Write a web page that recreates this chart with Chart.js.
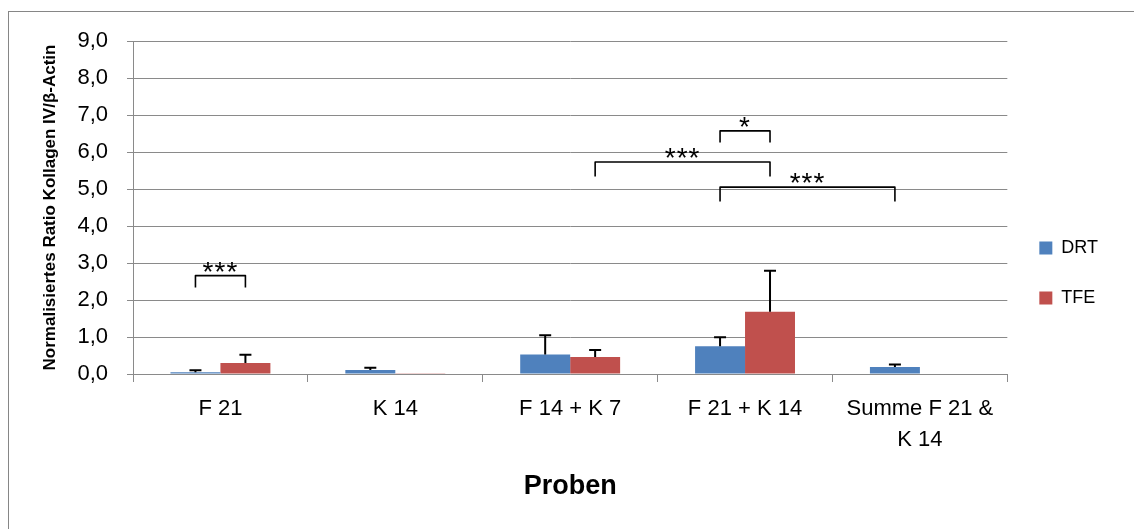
<!DOCTYPE html>
<html>
<head>
<meta charset="utf-8">
<script src="https://cdn.jsdelivr.net/npm/chart.js@4.4.1/dist/chart.umd.min.js"></script>
<style>
html, body { margin: 0; padding: 0; background: #fff; overflow: hidden; }
#wrap { position: relative; width: 1134px; height: 529px; }
#frame { position: absolute; left: 8px; top: 11px; width: 1200px; height: 600px; border: 1px solid #868686; }
#myChart { position: absolute; left: 0; top: 0; }
</style>
</head>
<body>
<div id="wrap">
  <div id="frame"></div>
  <canvas id="myChart" width="1134" height="529"></canvas>
</div>
<script>
// data
var categories = ['F 21', 'K 14', 'F 14 + K 7', 'F 21 + K 14', ['Summe F 21 &', 'K 14']];
var drtValues = [0.05, 0.11, 0.53, 0.75, 0.19];
var drtErrors = [0.05, 0.06, 0.52, 0.24, 0.07];
var tfeValues = [0.30, 0.01, 0.46, 1.68, 0];
var tfeErrors = [0.22, 0, 0.19, 1.11, 0];
var yTicks = [0, 1, 2, 3, 4, 5, 6, 7, 8, 9];

// significance brackets: [category, dataset] at each end, bracket top / leg end in axis units
var bracketFrom = [[0, 0], [3, 0], [2, 1], [3, 0]];
var bracketTo = [[0, 1], [3, 1], [3, 1], [4, 0]];
var bracketTop = [2.66, 6.57, 5.73, 5.05];
var bracketLeg = [2.34, 6.26, 5.34, 4.66];
var bracketText = ['***', '*', '***', '***'];

var fontName = "'Liberation Sans', Arial, sans-serif";

var errorBars = {
    id: 'errorBars',
    afterDatasetsDraw: function (chart) {
        var ctx = chart.ctx;
        var y = chart.scales.y;
        chart.data.datasets.forEach(function (ds, i) {
            var meta = chart.getDatasetMeta(i);
            meta.data.forEach(function (bar, j) {
                var err = ds.errors[j];
                if (!err) return;
                var top = y.getPixelForValue(ds.data[j] + err);
                ctx.save();
                ctx.strokeStyle = '#000';
                ctx.lineWidth = 2;
                ctx.beginPath();
                ctx.moveTo(bar.x, bar.y);
                ctx.lineTo(bar.x, top);
                ctx.moveTo(bar.x - 6, top);
                ctx.lineTo(bar.x + 6, top);
                ctx.stroke();
                ctx.restore();
            });
        });
    }
};

var brackets = {
    id: 'brackets',
    afterDatasetsDraw: function (chart) {
        var ctx = chart.ctx;
        var y = chart.scales.y;
        for (var k = 0; k < bracketText.length; k++) {
            var a = chart.getDatasetMeta(bracketFrom[k][1]).data[bracketFrom[k][0]];
            var b = chart.getDatasetMeta(bracketTo[k][1]).data[bracketTo[k][0]];
            var yt = y.getPixelForValue(bracketTop[k]);
            var yl = y.getPixelForValue(bracketLeg[k]);
            ctx.save();
            ctx.strokeStyle = '#000';
            ctx.lineWidth = 1.6;
            ctx.lineJoin = 'round';
            ctx.beginPath();
            ctx.moveTo(a.x, yl);
            ctx.lineTo(a.x, yt);
            ctx.lineTo(b.x, yt);
            ctx.lineTo(b.x, yl);
            ctx.stroke();
            ctx.fillStyle = '#000';
            ctx.font = '28px ' + fontName;
            ctx.letterSpacing = '1px';
            ctx.textAlign = 'center';
            ctx.textBaseline = 'alphabetic';
            ctx.fillText(bracketText[k], (a.x + b.x) / 2, yt + 5);
            ctx.restore();
        }
    }
};

var ctx = document.getElementById('myChart').getContext('2d');
var myChart = new Chart(ctx, {
    type: 'bar',
    data: {
        labels: categories,
        datasets: [{
            label: 'DRT',
            data: drtValues,
            errors: drtErrors,
            backgroundColor: '#4F81BD',
            borderWidth: 0
        }, {
            label: 'TFE',
            data: tfeValues,
            errors: tfeErrors,
            backgroundColor: '#C0504D',
            borderWidth: 0
        }]
    },
    options: {
        responsive: false,
        animation: false,
        categoryPercentage: 100 / 175,
        barPercentage: 1,
        layout: { padding: { left: 20, top: 41, right: 26, bottom: 24 } },
        plugins: {
            legend: {
                position: 'right',
                labels: {
                    boxWidth: 13,
                    boxHeight: 13,
                    padding: 32,
                    color: '#000',
                    font: { family: fontName, size: 18 }
                }
            },
            tooltip: { enabled: false }
        },
        scales: {
            x: {
                afterFit: function (scale) { scale.height = 131; },
                grid: {
                    display: true,
                    drawOnChartArea: false,
                    drawTicks: true,
                    tickLength: 8,
                    color: '#8a8a8a'
                },
                border: { color: '#8a8a8a' },
                ticks: {
                    color: '#000',
                    padding: 11,
                    maxRotation: 0,
                    autoSkip: false,
                    font: { family: fontName, size: 22, lineHeight: 1.43 }
                },
                title: {
                    display: true,
                    text: 'Proben',
                    color: '#000',
                    padding: { top: 0, bottom: 2 },
                    font: { family: fontName, size: 27, weight: 'bold' }
                }
            },
            y: {
                min: 0,
                max: 9,
                afterFit: function (scale) { scale.width = 113; },
                afterBuildTicks: function (scale) {
                    scale.ticks = yTicks.map(function (v) { return { value: v }; });
                },
                grid: { color: '#8a8a8a', tickLength: 6 },
                border: { color: '#8a8a8a' },
                ticks: {
                    color: '#000',
                    padding: 19,
                    font: { family: fontName, size: 22 },
                    callback: function (v) { return v.toFixed(1).replace('.', ','); }
                },
                title: {
                    display: true,
                    text: 'Normalisiertes Ratio Kollagen IV/β-Actin',
                    color: '#000',
                    padding: { top: 20, bottom: 0 },
                    font: { family: fontName, size: 17, weight: 'bold' }
                }
            }
        }
    },
    plugins: [errorBars, brackets]
});
</script>
</body>
</html>
